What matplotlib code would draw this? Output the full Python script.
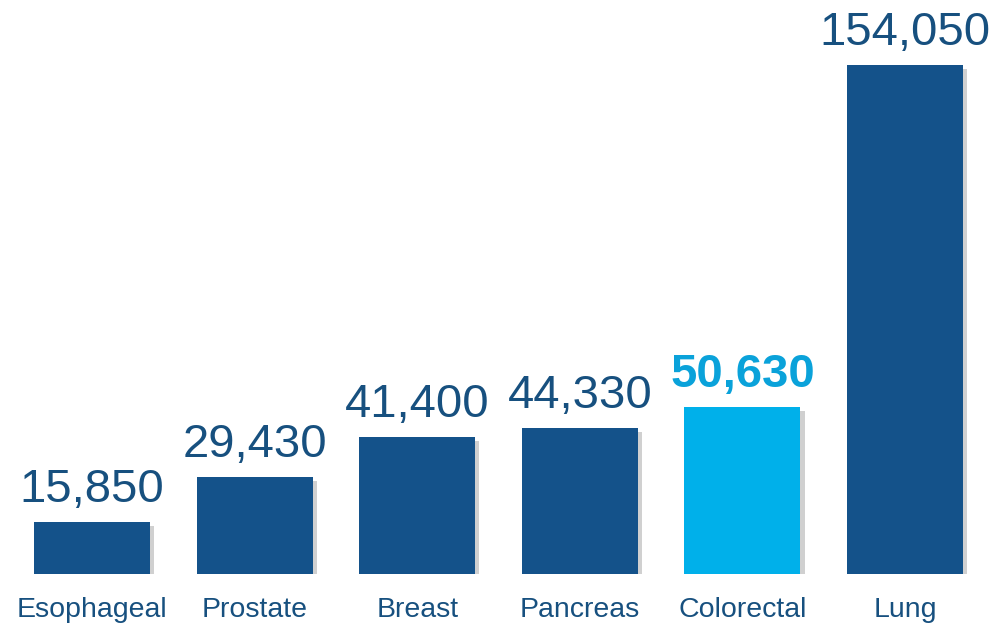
import matplotlib.pyplot as plt
import matplotlib.patheffects as pe

categories = ['Esophageal', 'Prostate', 'Breast', 'Pancreas', 'Colorectal', 'Lung']
deaths = [15850, 29430, 41400, 44330, 50630, 154050]
highlight = 'Colorectal'

dark = '#14528A'
light = '#00B0EA'
text_dark = '#17507F'

plt.rcParams['font.family'] = ['Liberation Sans', 'DejaVu Sans']

fig = plt.figure(figsize=(9.95, 6.25), dpi=100)
ax = fig.add_axes([10.7 / 995, 51 / 625, 975.6 / 995, 574 / 625])

colors = [light if c == highlight else dark for c in categories]
bars = ax.bar(range(len(categories)), deaths, width=0.713, color=colors)
for b in bars:
    b.set_path_effects([pe.SimplePatchShadow(offset=(3, -3), shadow_rgbFace='#666666', alpha=0.3),
                        pe.Normal()])

ax.set_xlim(-0.5, len(categories) - 0.5)
ax.set_ylim(0, 154050 * 574 / 509)

for i, (c, v) in enumerate(zip(categories, deaths)):
    if c == highlight:
        ax.annotate(f'{v:,}', (i, v), xytext=(0, 20), textcoords='offset pixels',
                    ha='center', va='baseline', fontsize=34, fontweight='bold', color='#0AA2DA')
    else:
        ax.annotate(f'{v:,}', (i, v), xytext=(0, 20), textcoords='offset pixels',
                    ha='center', va='baseline', fontsize=34, color=text_dark)
    ax.annotate(c, (i, 0), xytext=(0, -43), textcoords='offset pixels',
                ha='center', va='baseline', fontsize=20.5, color=text_dark)

ax.axis('off')
fig.savefig('out.png', dpi=100)
